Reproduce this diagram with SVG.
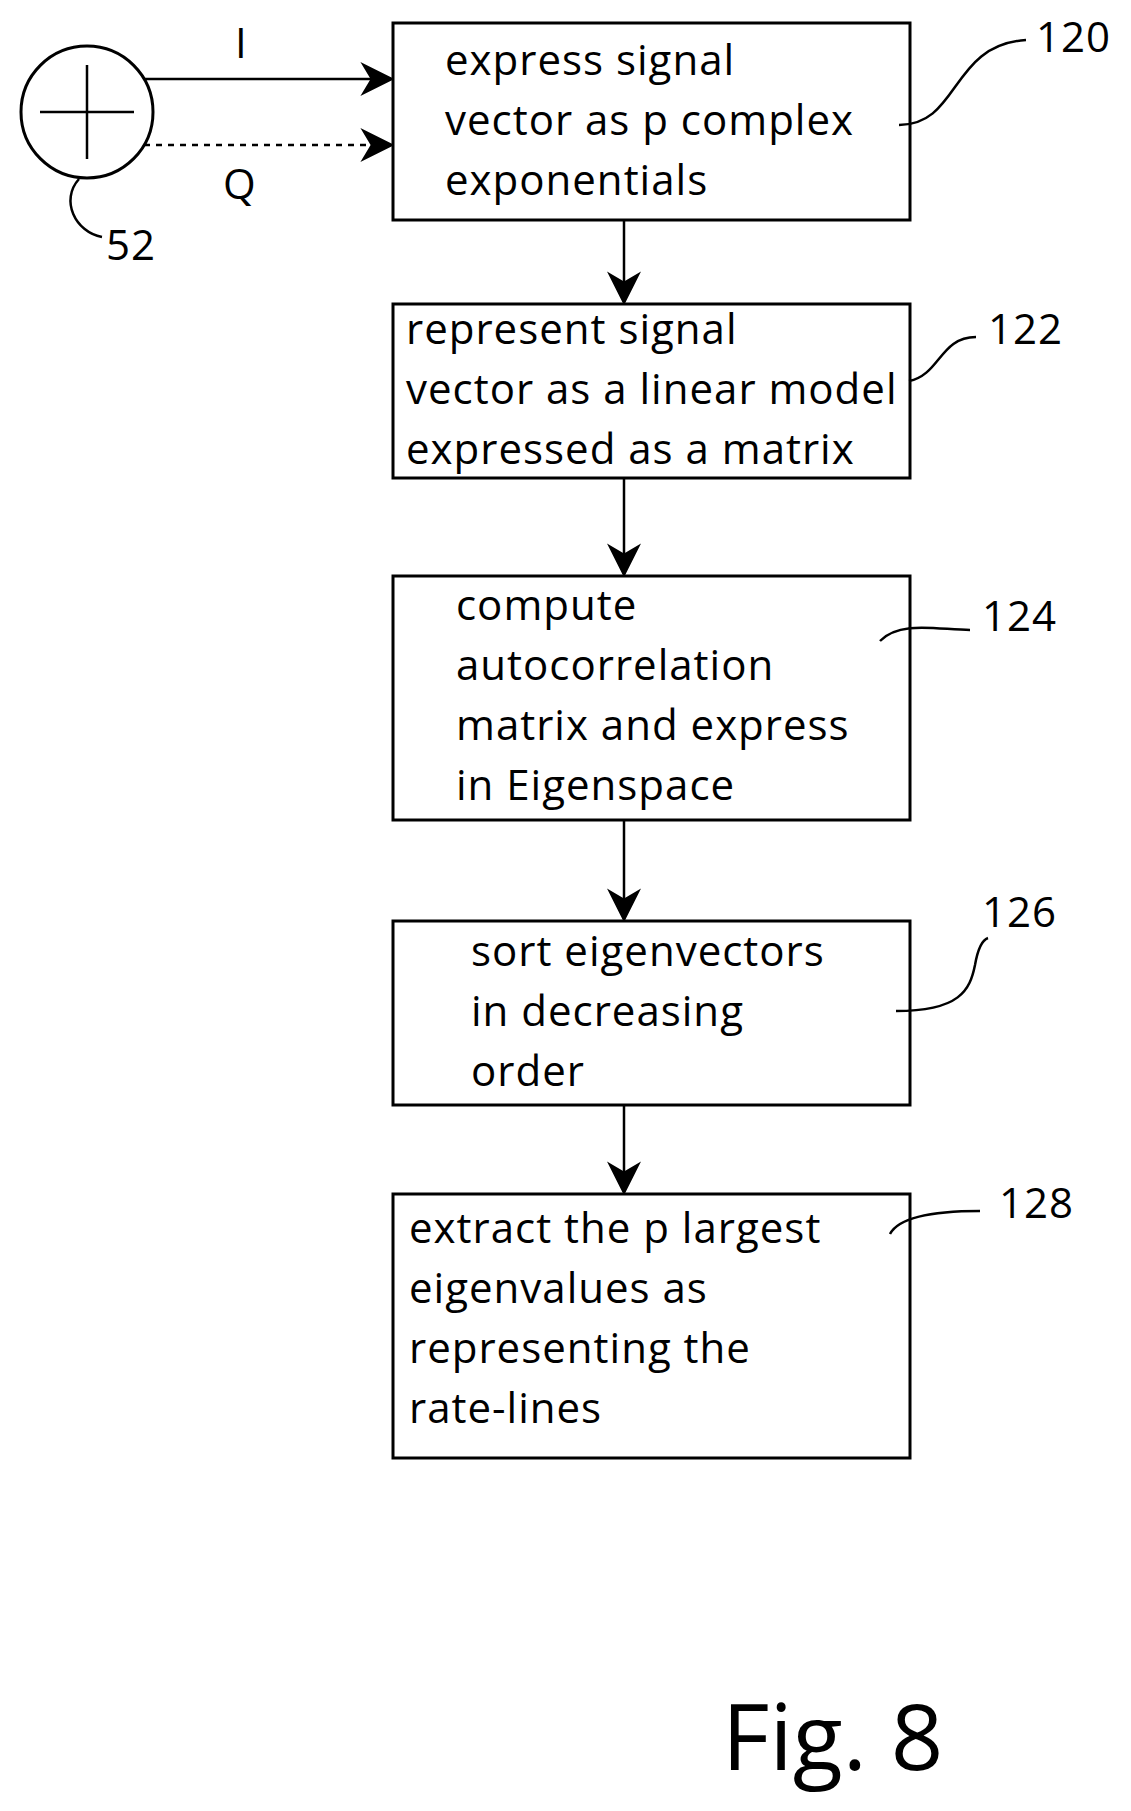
<svg xmlns="http://www.w3.org/2000/svg" width="1131" height="1811" viewBox="0 0 1131 1811">
<style>
.box{fill:#fff;stroke:#000;stroke-width:3}
.t{font-family:"Open Sans","Liberation Sans",sans-serif;font-size:42px;letter-spacing:1px;fill:#000}
.ln{fill:none;stroke:#000;stroke-width:2.5}
</style>
<defs><marker id="b" viewBox="0 0 10 10" refX="9" refY="5" markerWidth="34" markerHeight="34" markerUnits="userSpaceOnUse" orient="auto"><path d="M0,0 L10,5 L0,10 L3,5 z"/></marker></defs>
<rect width="1131" height="1811" fill="#fff"/>
<g id="sum"><circle cx="87" cy="112" r="66" fill="#fff" stroke="#000" stroke-width="3"/><path class="ln" d="M40,112 H134 M87,65 V159"/><text class="t" x="106" y="260">52</text><path class="ln" d="M79,179 C60,200 75,232 102,237"/></g>
<g id="n120"><rect class="box" x="393" y="23" width="517" height="197"/><text class="t" x="445" y="75">express signal</text><text class="t" x="445" y="135">vector as p complex</text><text class="t" x="445" y="195">exponentials</text><text class="t" x="1036" y="52">120</text></g>
<g id="n122"><rect class="box" x="393" y="304" width="517" height="174"/><text class="t" x="406" y="344">represent signal</text><text class="t" x="406" y="404">vector as a linear model</text><text class="t" x="406" y="464">expressed as a matrix</text><text class="t" x="988" y="344">122</text></g>
<g id="n124"><rect class="box" x="393" y="576" width="517" height="244"/><text class="t" x="456" y="620">compute</text><text class="t" x="456" y="680">autocorrelation</text><text class="t" x="456" y="740">matrix and express</text><text class="t" x="456" y="800">in Eigenspace</text><text class="t" x="982" y="631">124</text></g>
<g id="n126"><rect class="box" x="393" y="921" width="517" height="184"/><text class="t" x="471" y="966">sort eigenvectors</text><text class="t" x="471" y="1026">in decreasing</text><text class="t" x="471" y="1086">order</text><text class="t" x="982" y="927">126</text></g>
<g id="n128"><rect class="box" x="393" y="1194" width="517" height="264"/><text class="t" x="409" y="1243">extract the p largest</text><text class="t" x="409" y="1303">eigenvalues as</text><text class="t" x="409" y="1363">representing the</text><text class="t" x="409" y="1423">rate-lines</text><text class="t" x="999" y="1218">128</text></g>
<g id="connectors">
<path class="ln" d="M144,79 H391" marker-end="url(#b)"/>
<path class="ln" d="M144,145 H391" stroke-dasharray="6,6" marker-end="url(#b)"/>
<text class="t" x="235" y="58">I</text><text class="t" x="223" y="199">Q</text>
<path class="ln" d="M624,220 V302" marker-end="url(#b)"/>
<path class="ln" d="M624,478 V574" marker-end="url(#b)"/>
<path class="ln" d="M624,820 V919" marker-end="url(#b)"/>
<path class="ln" d="M624,1105 V1192" marker-end="url(#b)"/>
<path class="ln" d="M899,125 C960,125 950,45 1026,40"/>
<path class="ln" d="M909,381 C940,375 940,337 976,337"/>
<path class="ln" d="M880,641 C900,620 940,630 970,630"/>
<path class="ln" d="M896,1011 C960,1011 970,990 975,965 C978,948 982,940 988,938"/>
<path class="ln" d="M890,1234 C900,1215 940,1211 980,1211"/>
</g>
<text x="722" y="1770" style="font-family:'Open Sans','Liberation Sans',sans-serif;font-size:92px">Fig. 8</text>
</svg>
